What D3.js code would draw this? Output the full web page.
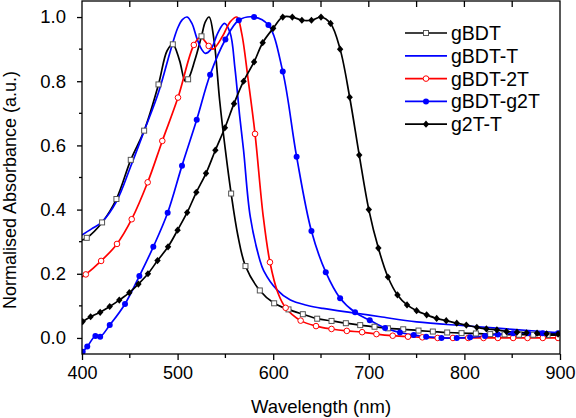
<!DOCTYPE html>
<html><head><meta charset="utf-8">
<script src="https://cdn.jsdelivr.net/npm/d3@7"></script>
<style>body{margin:0;background:#fff}svg{display:block}text{font-family:"Liberation Sans",Arial,sans-serif;fill:#000}</style>
</head><body><svg id="c" width="576" height="418"></svg>
<script>
// [wavelength, value, marker(1/0)]
const gBDT = [[400,0.305,0],[405,0.312,1],[421,0.36,1],[436,0.433,1],[451,0.555,1],[465,0.646,1],[480,0.79,1],[489,0.895,0],[495,0.915,1],[502,0.865,0],[508,0.80,0],[511,0.806,1],[518,0.865,0],[525,0.94,1],[529,0.985,0],[533,1.0,0],[538,0.93,0],[544,0.74,0],[550,0.585,0],[556,0.45,1],[563,0.32,0],[571,0.224,1],[586,0.148,1],[601,0.108,1],[616,0.089,1],[631,0.074,1],[646,0.06,1],[661,0.053,1],[676,0.046,1],[691,0.04,1],[706,0.035,1],[720,0.03,1],[736,0.027,1],[752,0.023,1],[767,0.02,1],[782,0.017,1],[797,0.015,1],[812,0.014,1],[827,0.012,1],[842,0.011,1],[857,0.01,1],[872,0.01,1],[887,0.009,1],[900,0.009,0]];
const gBDT_T = [[400,0.321,0],[410,0.34,0],[421,0.362,0],[436,0.425,0],[451,0.535,0],[465,0.645,0],[480,0.765,0],[493,0.9,0],[500,0.965,0],[505,0.992,0],[510,1.0,0],[515,0.98,0],[520,0.935,0],[525,0.9,0],[529,0.887,0],[535,0.9,0],[542,0.95,0],[549,0.98,0],[555,0.95,0],[560,0.84,0],[565,0.69,0],[569,0.585,0],[576,0.378,0],[586,0.243,0],[590,0.21,0],[604,0.15,0],[618,0.118,0],[635,0.102,0],[652,0.092,0],[687,0.077,0],[712,0.066,0],[750,0.05,0],[800,0.038,0],[850,0.027,0],[900,0.016,0]];
const gBDT_2T = [[400,0.19,0],[404,0.198,1],[420,0.24,1],[436.6,0.293,1],[452,0.37,1],[468.7,0.485,1],[484,0.614,1],[500.4,0.749,1],[517,0.913,1],[524,0.937,0],[532.5,0.91,1],[537,0.90,0],[547,0.94,0],[555,0.985,0],[562,1.0,0],[567,0.95,0],[574,0.80,0],[581,0.636,1],[589.6,0.378,0],[596.6,0.236,1],[605,0.14,0],[613,0.094,1],[628.7,0.054,1],[644.8,0.037,1],[661,0.028,1],[677,0.022,1],[693,0.018,1],[708,0.012,1],[725,0.007,1],[741,0.004,1],[756,0.002,1],[772,0.0,1],[788,0.0,1],[804,0.0,1],[820,0.0,1],[835,0.0,1],[851,0.0,1],[866,0.0,1],[882,0.0,1],[898,0.0,1],[900,0.0,0]];
const gBDT_g2T = [[400,-0.045,0],[400.7,-0.043,1],[405.5,-0.027,1],[414,0.006,1],[419,0.004,1],[429,0.04,1],[445,0.106,1],[460,0.193,1],[474.6,0.284,1],[489.6,0.39,1],[504.6,0.537,1],[520,0.68,1],[534,0.82,1],[550,0.93,1],[564,0.99,1],[580,1.0,1],[595,0.975,1],[610,0.83,1],[624.5,0.565,1],[640,0.333,1],[655,0.205,1],[670,0.124,1],[685.6,0.08,1],[701,0.055,1],[717,0.031,1],[732.6,0.017,1],[747,0.009,1],[760,0.004,1],[776,0.0,1],[792,0.0,1],[806,0.002,1],[821.5,0.006,1],[835,0.011,1],[851,0.015,1],[866.5,0.015,1],[882,0.015,1],[898,0.015,1],[900,0.015,0]];
const g2T_T = [[400.7,0.051,1],[409,0.066,1],[419,0.08,1],[429,0.098,1],[439,0.118,1],[449.5,0.141,1],[459,0.168,1],[469,0.2,1],[479,0.241,1],[490,0.284,1],[500,0.336,1],[510,0.391,1],[519.6,0.454,1],[529.7,0.513,1],[539.5,0.585,1],[549.5,0.655,1],[559,0.73,1],[569,0.80,1],[580,0.86,1],[589,0.92,1],[600,0.965,1],[610,1.0,1],[620,1.0,1],[630,0.99,1],[640,0.99,1],[650,1.0,1],[660,0.98,1],[670,0.90,1],[680,0.75,1],[690,0.57,1],[700,0.40,1],[710,0.28,1],[720,0.19,1],[730,0.134,1],[740,0.103,1],[750,0.085,1],[760.5,0.072,1],[771,0.061,1],[781,0.054,1],[792,0.046,1],[802,0.04,1],[813,0.033,1],[823,0.028,1],[834,0.025,1],[844,0.02,1],[855,0.018,1],[865,0.016,1],[876,0.015,1],[886,0.013,1],[898,0.012,1]];

const seriesNames = ["gBDT","gBDT-T","gBDT-2T","gBDT-g2T","g2T-T"];
const seriesData = [gBDT,gBDT_T,gBDT_2T,gBDT_g2T,g2T_T];
const seriesColors = ["#000000","#0000ff","#ff0000","#0000ff","#000000"];
const seriesMarkers = ["square","none","circle","dot","diamond"];
const xTicks = [400,500,600,700,800,900];
const yTicks = [0.0,0.2,0.4,0.6,0.8,1.0];

const svg = d3.select("#c");
const L=82,R=560,T=1,B=354;
const x = d3.scaleLinear().domain([400,900]).range([L,R]);
const y = d3.scaleLinear().domain([-0.05,1.05]).range([B,T]);

svg.append("clipPath").attr("id","pc").append("rect").attr("x",L).attr("y",T).attr("width",R-L).attr("height",B-T);
const plot = svg.append("g").attr("clip-path","url(#pc)");

const line = d3.line().x(d=>x(d[0])).y(d=>y(d[1])).curve(d3.curveCatmullRom.alpha(0.5));

function drawMarker(g, type, color, cx, cy){
  if(type==="square") g.append("rect").attr("x",cx-2.5).attr("y",cy-2.5).attr("width",5).attr("height",5).attr("fill","#fff").attr("stroke","#555").attr("stroke-width",1);
  else if(type==="circle") g.append("circle").attr("cx",cx).attr("cy",cy).attr("r",2.8).attr("fill","#fff").attr("stroke",color).attr("stroke-width",1);
  else if(type==="dot") g.append("circle").attr("cx",cx).attr("cy",cy).attr("r",3).attr("fill",color);
  else if(type==="diamond") g.append("path").attr("d",`M${cx},${cy-3.6}L${cx+3.2},${cy}L${cx},${cy+3.6}L${cx-3.2},${cy}Z`).attr("fill",color);
}

seriesData.forEach((data,i)=>{
  plot.append("path").datum(data).attr("d",line).attr("fill","none").attr("stroke",seriesColors[i]).attr("stroke-width",1.7);
});
seriesData.forEach((data,i)=>{
  const g = plot.append("g");
  data.filter(d=>d[2]===1).forEach(d=>drawMarker(g,seriesMarkers[i],seriesColors[i],x(d[0]),y(d[1])));
});

// frame
svg.append("rect").attr("x",L).attr("y",T).attr("width",R-L).attr("height",B-T).attr("fill","none").attr("stroke","#000").attr("stroke-width",1.3);

// bottom axis
const xMinor = d3.range(450,900,100);
const bx = svg.append("g").attr("transform",`translate(0,${B})`);
bx.call(d3.axisBottom(x).tickValues(xTicks).tickSize(6).tickPadding(6).tickFormat(d3.format("d")));
bx.select(".domain").remove();
bx.selectAll("text").attr("font-size",18).attr("font-family","Liberation Sans, Arial, sans-serif");
bx.selectAll("line").attr("stroke-width",1.3);
bx.selectAll(".minor").data(xMinor).enter().append("line").attr("x1",d=>x(d)).attr("x2",d=>x(d)).attr("y1",0).attr("y2",4).attr("stroke","#000").attr("stroke-width",1.3);

// top ticks inward
svg.append("g").selectAll("line").data(d3.range(450,900,50)).enter().append("line").attr("x1",d=>x(d)).attr("x2",d=>x(d)).attr("y1",T).attr("y2",T+6).attr("stroke","#000").attr("stroke-width",1.3);

// left axis
const ly = svg.append("g").attr("transform",`translate(${L},0)`);
ly.call(d3.axisLeft(y).tickValues(yTicks).tickSize(5).tickPadding(11).tickFormat(d3.format(".1f")));
ly.select(".domain").remove();
ly.selectAll("text").attr("font-size",18.5).attr("font-family","Liberation Sans, Arial, sans-serif");
ly.selectAll("line").attr("stroke-width",1.3);
ly.selectAll(".minor").data([0.1,0.3,0.5,0.7,0.9]).enter().append("line").attr("x1",-3).attr("x2",0).attr("y1",d=>y(d)).attr("y2",d=>y(d)).attr("stroke","#000").attr("stroke-width",1.3);

// titles
svg.append("text").attr("x",(L+R)/2).attr("y",413).attr("text-anchor","middle").attr("font-size",18.5).text("Wavelength (nm)");
svg.append("text").attr("transform",`translate(16,190) rotate(-90)`).attr("text-anchor","middle").attr("font-size",18).text("Normalised Absorbance (a.u.)");

// legend
const lg = svg.append("g");
seriesNames.forEach((n,i)=>{
  const yy = 33 + i*22.8;
  lg.append("line").attr("x1",405).attr("x2",447).attr("y1",yy).attr("y2",yy).attr("stroke",seriesColors[i]).attr("stroke-width",1.7);
  drawMarker(lg,seriesMarkers[i],seriesColors[i],426,yy);
  lg.append("text").attr("x",451).attr("y",yy+7).attr("font-size",19.5).text(n);
});
</script></body></html>
